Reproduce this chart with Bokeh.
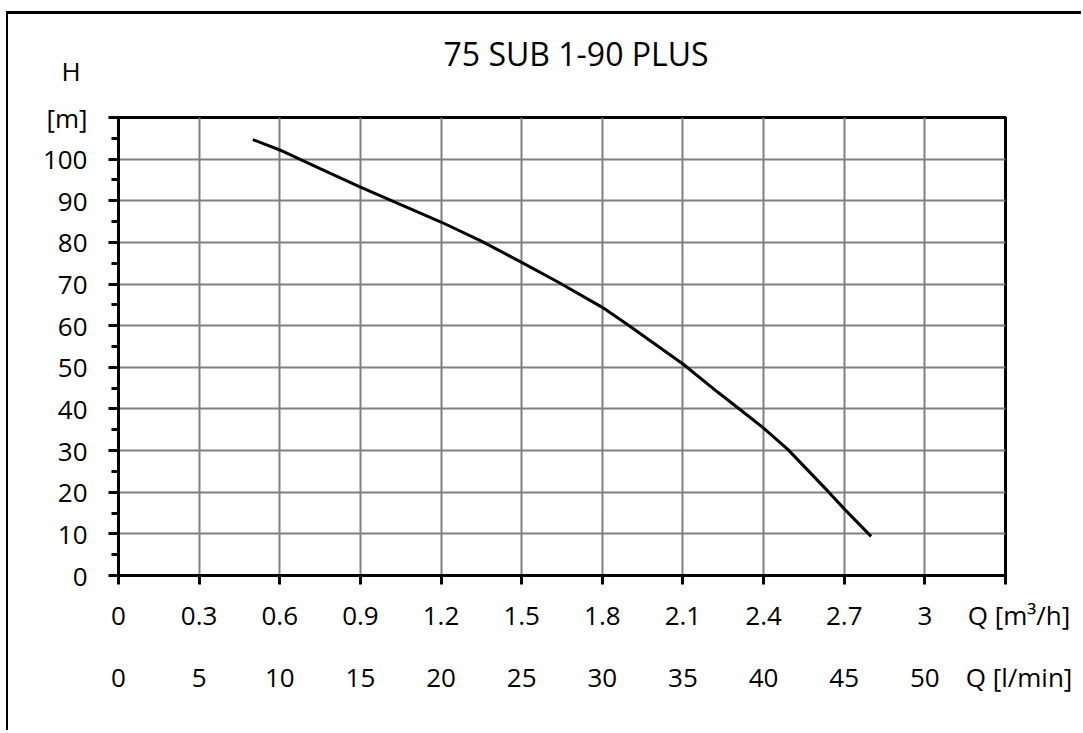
from bokeh.plotting import figure
from bokeh.models import FixedTicker, LinearAxis, Range1d, Grid, Title
from bokeh.embed import file_html
from bokeh.resources import INLINE

# ---- data ----
title_text = "75 SUB 1-90 PLUS"
q_m3h = [0.50, 0.60, 0.75, 0.90, 1.05, 1.20, 1.35, 1.50, 1.64, 1.80, 1.90,
         2.10, 2.23, 2.31, 2.40, 2.49, 2.64, 2.70, 2.80]
h_m = [104.7, 102.2, 97.7, 93.3, 89.1, 84.9, 80.3, 75.2, 70.3, 64.4, 60.0,
       50.8, 44.0, 40.0, 35.4, 30.3, 20.2, 16.0, 9.4]

q_ticks = [0, 0.3, 0.6, 0.9, 1.2, 1.5, 1.8, 2.1, 2.4, 2.7, 3.0, 3.3]
q_tick_labels = ["0", "0.3", "0.6", "0.9", "1.2", "1.5", "1.8", "2.1", "2.4", "2.7", "3", ""]
q_unit_label = "Q [m\u00b3/h]"
lmin_ticks = [0, 5, 10, 15, 20, 25, 30, 35, 40, 45, 50, 55]
lmin_tick_labels = ["0", "5", "10", "15", "20", "25", "30", "35", "40", "45", "50", ""]
lmin_unit_label = "Q [l/min]"
h_ticks = [0, 10, 20, 30, 40, 50, 60, 70, 80, 90, 100, 110]
h_tick_labels = ["0", "10", "20", "30", "40", "50", "60", "70", "80", "90", "100", ""]
h_unit_label = ["H", "[m]"]
h_minor_ticks = [5, 15, 25, 35, 45, 55, 65, 75, 85, 95, 105]
grid_h = [10, 20, 30, 40, 50, 60, 70, 80, 90, 100]
grid_q = [0.3, 0.6, 0.9, 1.2, 1.5, 1.8, 2.1, 2.4, 2.7, 3.0]

FONT = "Open Sans"
TICK_SIZE = "26px"
NBSP = "\u00a0"

p = figure(frame_width=887, frame_height=458,
           x_range=Range1d(0, 3.3), y_range=Range1d(0, 110),
           output_backend="svg", toolbar_location=None,
           x_axis_type=None, y_axis_type=None,
           min_border_left=110, min_border_top=103,
           min_border_right=76, min_border_bottom=155,
           background_fill_color="white", border_fill_color="white")

# thin outer frame lines of the original picture (top and left)
p.styles = {"margin-left": "6px", "margin-top": "11px",
            "border-left": "2px solid black", "border-top": "3px solid black"}

p.outline_line_color = "black"
p.outline_line_width = 3

# neutralise the default (empty) title
p.title.text = ""
p.title.standoff = 0
p.title.text_font_size = "1px"

# spacer between frame and title, then the title itself
p.add_layout(Title(text=NBSP, text_font_size="1px", standoff=40), "above")
p.add_layout(Title(text=title_text, align="left", offset=325, standoff=0,
                   text_font=FONT, text_font_size="32px", text_font_style="normal",
                   text_color="black"), "above")

# x axis (m3/h)
q_over = {t: l for t, l in zip(q_ticks, q_tick_labels)}
q_over[q_ticks[-1]] = NBSP * 4 + q_unit_label
xa = LinearAxis(ticker=FixedTicker(ticks=q_ticks, minor_ticks=[]))
xa.major_label_overrides = q_over
xa.axis_line_width = 3
xa.major_tick_line_width = 3
xa.major_tick_out = 9
xa.major_tick_in = 0
xa.major_label_standoff = 12
xa.major_label_text_font = FONT
xa.major_label_text_font_size = TICK_SIZE
xa.major_label_text_color = "black"
p.add_layout(xa, "below")

# second x axis (l/min)
p.extra_x_ranges = {"lmin": Range1d(0, 55)}
l_over = {t: l for t, l in zip(lmin_ticks, lmin_tick_labels)}
l_over[lmin_ticks[-1]] = NBSP * 4 + lmin_unit_label
xa2 = LinearAxis(x_range_name="lmin", ticker=FixedTicker(ticks=lmin_ticks, minor_ticks=[]))
xa2.major_label_overrides = l_over
xa2.axis_line_color = None
xa2.major_tick_line_color = None
xa2.minor_tick_line_color = None
xa2.major_tick_out = 0
xa2.major_tick_in = 0
xa2.major_label_standoff = 23
xa2.major_label_text_font = FONT
xa2.major_label_text_font_size = TICK_SIZE
xa2.major_label_text_color = "black"
p.add_layout(xa2, "below")

# y axis
h_over = {t: l for t, l in zip(h_ticks, h_tick_labels)}
h_over[h_ticks[-1]] = h_unit_label[0] + NBSP + "\n" + h_unit_label[1] + "\n" + NBSP
ya = LinearAxis(ticker=FixedTicker(ticks=h_ticks, minor_ticks=h_minor_ticks))
ya.major_label_overrides = h_over
ya.axis_line_width = 3
ya.major_tick_line_width = 3
ya.major_tick_out = 10
ya.major_tick_in = 0
ya.minor_tick_line_width = 3
ya.minor_tick_out = 7
ya.minor_tick_in = 0
ya.major_label_standoff = 21
ya.major_label_text_font = FONT
ya.major_label_text_font_size = TICK_SIZE
ya.major_label_text_line_height = 1.3
ya.major_label_text_color = "black"
p.add_layout(ya, "left")

# grids
for dim, ticks in ((0, grid_q), (1, grid_h)):
    p.add_layout(Grid(dimension=dim, ticker=FixedTicker(ticks=ticks),
                      grid_line_color="#808080", grid_line_width=2))

# curve
p.line(q_m3h, h_m, line_color="black", line_width=3)

open("out.html", "w").write(file_html(p, INLINE))
